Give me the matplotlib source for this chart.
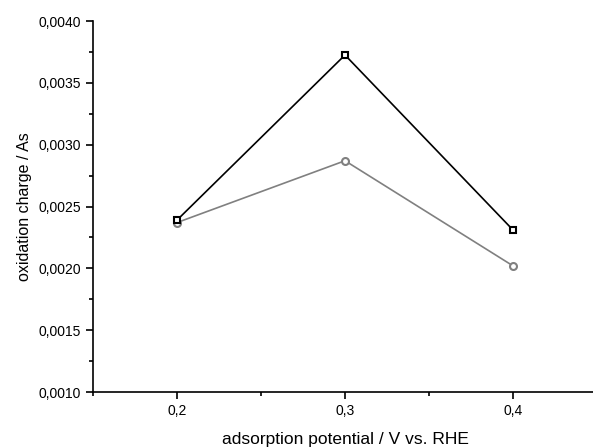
import matplotlib.pyplot as plt
from matplotlib.ticker import MultipleLocator, FuncFormatter

potential = [0.2, 0.3, 0.4]
charge_black = [0.00239, 0.003725, 0.00231]
charge_gray = [0.00237, 0.00287, 0.00202]

plt.rcParams['font.family'] = ['Liberation Sans', 'DejaVu Sans']

fig = plt.figure(figsize=(5.93, 4.48), dpi=100)
ax = fig.add_axes([93 / 593, 56 / 448, 504 / 593, 371 / 448])

ax.plot(potential, charge_black, '-s', color='black', lw=1.2, ms=4.5,
        mfc='white', mec='black', mew=1.5, zorder=3)
ax.plot(potential, charge_gray, '-o', color='#808080', lw=1.2, ms=5,
        mfc='white', mec='#808080', mew=1.5, zorder=2)

ax.set_xlim(0.15, 0.45)
ax.set_ylim(0.0010, 0.0040)
ax.xaxis.set_major_locator(MultipleLocator(0.1))
ax.xaxis.set_minor_locator(MultipleLocator(0.05))
ax.yaxis.set_major_locator(MultipleLocator(0.0005))
ax.yaxis.set_minor_locator(MultipleLocator(0.00025))
ax.xaxis.set_major_formatter(FuncFormatter(lambda v, p: f"{v:.1f}".replace('.', ',')))
ax.yaxis.set_major_formatter(FuncFormatter(lambda v, p: f"{v:.4f}".replace('.', ',')))

for s in ['top', 'right']:
    ax.spines[s].set_visible(False)
for s in ['left', 'bottom']:
    ax.spines[s].set_linewidth(1.2)
ax.tick_params(which='major', direction='out', length=5, width=1.2, labelsize=10)
ax.tick_params(which='minor', direction='out', length=3, width=1.2)

ax.set_xlabel('adsorption potential / V vs. RHE', fontsize=12.5, labelpad=10)
ax.set_ylabel('oxidation charge / As', fontsize=11.5, labelpad=5)

fig.savefig('out.png', dpi=100)
